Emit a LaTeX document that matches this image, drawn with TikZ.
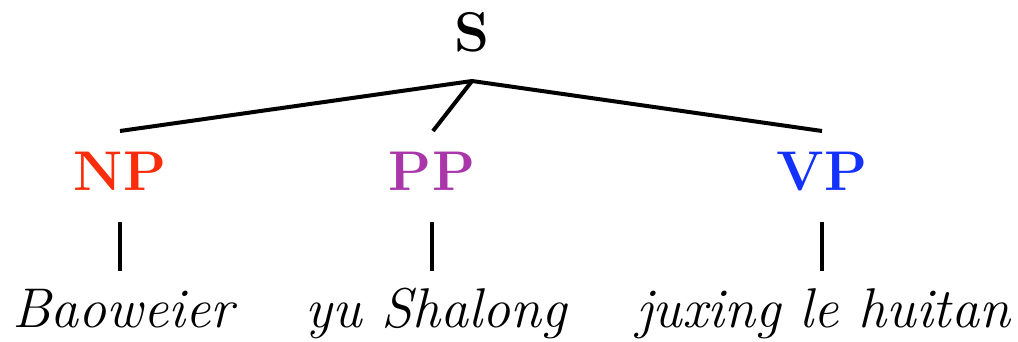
\documentclass[tikz,border=0pt]{standalone}
\usepackage{fontspec}
\definecolor{npred}{RGB}{250,45,10}
\definecolor{pppurple}{RGB}{170,55,170}
\definecolor{vpblue}{RGB}{20,50,255}
\begin{document}
\begin{tikzpicture}[x=0.5pt,y=-0.5pt,
  lab/.style={anchor=base,inner sep=0pt,font=\fontsize{28}{34}\selectfont\bfseries},
  word/.style={anchor=base,inner sep=0pt,font=\fontsize{28}{34}\selectfont\itshape},
  edge/.style={line width=2pt}]
\useasboundingbox (0,0) rectangle (1018,342);
\node[lab] (S) at (472,52) {S};
\node[lab,text=npred] (NP) at (120,191) {NP};
\node[lab,text=pppurple] (PP) at (432,191) {PP};
\node[lab,text=vpblue] (VP) at (822,191) {VP};
\node[word] (w1) at (123,327) {Baoweier};
\node[word] (w2) at (436,327) {yu Shalong};
\node[word] (w3) at (823,327) {juxing le huitan};
\coordinate (Sb) at (472,81);
\coordinate (NPt) at (120,131);
\coordinate (PPt) at (433,131);
\coordinate (VPt) at (822,131);
\coordinate (NPb) at (120,222);
\coordinate (PPb) at (432,222);
\coordinate (VPb) at (822,222);
\coordinate (w1t) at (120,271);
\coordinate (w2t) at (432,271);
\coordinate (w3t) at (822,271);
\draw[edge] (NPt) -- (Sb) -- (VPt);
\draw[edge] (Sb) -- (PPt);
\draw[edge] (NPb) -- (w1t);
\draw[edge] (PPb) -- (w2t);
\draw[edge] (VPb) -- (w3t);
\end{tikzpicture}
\end{document}
